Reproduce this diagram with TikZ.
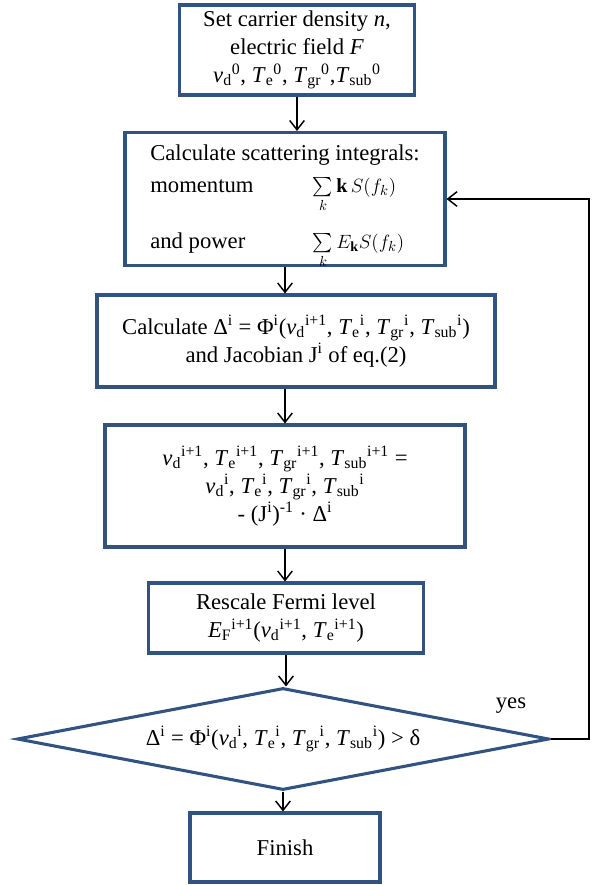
\documentclass[tikz,border=0pt]{standalone}
\usepackage{fontspec}
\setmainfont{Liberation Serif}
\usepackage{amsmath}
\usetikzlibrary{shapes.geometric,arrows.meta}
\definecolor{boxblue}{RGB}{50,82,128}
\newcommand{\ssb}[3]{\textit{#1}\textsubscript{#2}\textsuperscript{#3}}

\begin{document}
\begin{tikzpicture}[x=0.75pt,y=-0.75pt,
  blk/.style={draw=boxblue, line width=2.3pt, fill=white, align=center, inner sep=2pt, font=\fontsize{17}{21}\selectfont},
  dec/.style={blk, shape=diamond, aspect=5.2, inner sep=0pt},
  arr/.style={-{Straight Barb[length=7pt,width=11pt]}, line width=1.1pt},
  lbl/.style={font=\fontsize{17}{21}\selectfont, inner sep=1pt}
]
\useasboundingbox (0,0) rectangle (595,885);

% Steps
\node[blk, minimum width=176pt, minimum height=67.5pt] (setn) at (297,50)
  {Set carrier density \textit{n},\\ electric field \textit{F}\\
   \ssb{v}{d}{0}, \ssb{T}{e}{0}, \ssb{T}{gr}{0},\ssb{T}{sub}{0}};
\node[blk, minimum width=240pt, minimum height=96pt] (scat) at (285,199)
  {\raisebox{-4pt}[\height][\depth]{\begin{tabular}{@{}p{122pt}@{}l@{}}
   \multicolumn{2}{@{}l@{}}{Calculate scattering integrals:}\\[3pt]
   momentum & {\fontsize{15}{17}\selectfont $\sum\limits_{k}\mathbf{k}\,S(f_k)$}\\[21pt]
   and power & {\fontsize{15}{17}\selectfont $\sum\limits_{k}E_{\mathbf{k}}S(f_k)$}
   \end{tabular}}};
\node[blk, minimum width=298.5pt, minimum height=69pt] (calc) at (296,341)
  {Calculate Δ\textsuperscript{i} = Φ\textsuperscript{i}(\ssb{v}{d}{i+1}, \ssb{T}{e}{i}, \ssb{T}{gr}{i}, \ssb{T}{sub}{i})\\
   and Jacobian J\textsuperscript{i} of eq.(2)};
\node[blk, minimum width=270pt, minimum height=91.5pt] (upd) at (285,486)
  {\ssb{v}{d}{i+1}, \ssb{T}{e}{i+1}, \ssb{T}{gr}{i+1}, \ssb{T}{sub}{i+1} =\\
   \ssb{v}{d}{i}, \ssb{T}{e}{i}, \ssb{T}{gr}{i}, \ssb{T}{sub}{i}\\
   - (J\textsuperscript{i})\textsuperscript{-1} · Δ\textsuperscript{i}};
\node[blk, minimum width=206pt, minimum height=52.5pt] (fermi) at (286,618)
  {Rescale Fermi level\\ \ssb{E}{F}{i+1}(\ssb{v}{d}{i+1}, \ssb{T}{e}{i+1})};
\node[dec, minimum width=399pt, minimum height=76.5pt] (check) at (283,739)
  {Δ\textsuperscript{i} = Φ\textsuperscript{i}(\ssb{v}{d}{i}, \ssb{T}{e}{i}, \ssb{T}{gr}{i}, \ssb{T}{sub}{i}) > δ};
\node[blk, minimum width=142.5pt, minimum height=51.75pt] (finish) at (285,847.5) {Finish};
\node[lbl] (yes) at (511,706) {yes};
\coordinate (loop) at (589,739);

% Flow
\draw[arr] (setn.south) -- (setn.south |- scat.north);
\draw[arr] (scat.south) -- (scat.south |- calc.north);
\draw[arr] (calc.south -| upd.north) -- (upd.north);
\draw[arr] (upd.south) -- (upd.south |- fermi.north);
\draw[arr] (fermi.south) -- (fermi.south |- check.north);
\draw[arr] (check.south) -- (check.south |- finish.north);
\draw[arr] (check.east) -- (loop) |- (scat.east);
\end{tikzpicture}
\end{document}
